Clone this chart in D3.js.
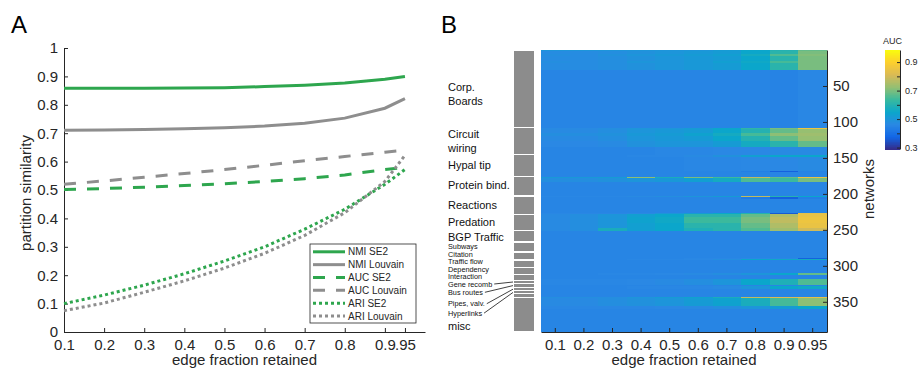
<!DOCTYPE html>
<html>
<head>
<meta charset="utf-8">
<script src="https://cdn.jsdelivr.net/npm/d3@7"></script>
<style>
  body { margin: 0; background: #fff; }
  svg { display: block; font-family: "Liberation Sans", Arial, Helvetica, sans-serif; }
</style>
</head>
<body>
<script>
// ---- data ----
const fractions = [0.1, 0.2, 0.3, 0.4, 0.5, 0.6, 0.7, 0.8, 0.9, 0.95];

const nmiSE2     = [0.858, 0.858, 0.858, 0.859, 0.860, 0.864, 0.869, 0.877, 0.890, 0.900];
const nmiLouvain = [0.710, 0.711, 0.713, 0.716, 0.719, 0.725, 0.735, 0.753, 0.788, 0.822];
const aucSE2     = [0.502, 0.505, 0.510, 0.516, 0.522, 0.530, 0.540, 0.553, 0.572, 0.580];
const aucLouvain = [0.520, 0.532, 0.545, 0.558, 0.572, 0.587, 0.603, 0.618, 0.633, 0.640];
const ariSE2     = [0.100, 0.130, 0.165, 0.205, 0.250, 0.300, 0.362, 0.432, 0.520, 0.572];
const ariLouvain = [0.075, 0.102, 0.140, 0.180, 0.225, 0.277, 0.340, 0.420, 0.530, 0.622];

const seriesNames = ["NMI SE2", "NMI Louvain", "AUC SE2", "AUC Louvain", "ARI SE2", "ARI Louvain"];

const yTicksA = [0, 0.1, 0.2, 0.3, 0.4, 0.5, 0.6, 0.7, 0.8, 0.9, 1];

// network categories: [name, first row, last row]
const categories = [
  ["Corp.|Boards", 0, 108],
  ["Circuit|wiring", 108, 145],
  ["Hypal tip", 145, 176],
  ["Protein bind.", 176, 203],
  ["Reactions", 203, 229],
  ["Predation", 229, 251],
  ["BGP Traffic", 251, 267],
  ["Subways", 267, 281],
  ["Citation", 281, 292],
  ["Traffic flow", 292, 302],
  ["Dependency", 302, 312],
  ["Interaction", 312, 320],
  ["Gene recomb", 320, 325],
  ["Bus routes", 325, 330],
  ["Pipes, valv.", 330, 335],
  ["Hyperlinks", 335, 339],
  ["", 339, 344],
  ["misc", 344, 392]
];
const nNetworks = 392;
const networkTicks = [50, 100, 150, 200, 250, 300, 350];

// AUC heat-map, blocks of rows: [from, to, AUC per edge fraction]
// later blocks are painted over earlier ones
const aucBlocks = [
  [0, 392,   [0.455, 0.455, 0.455, 0.455, 0.455, 0.455, 0.455, 0.455, 0.455, 0.455]],
  [0, 1,     [0.50, 0.50, 0.50, 0.50, 0.50, 0.50, 0.52, 0.55, 0.60, 0.68]],
  [1, 28,    [0.475, 0.475, 0.48, 0.49, 0.50, 0.51, 0.52, 0.55, 0.61, 0.70]],
  [5, 9,     [0.48, 0.475, 0.49, 0.50, 0.51, 0.52, 0.53, 0.57, 0.66, 0.71]],
  [15, 18,   [0.48, 0.475, 0.48, 0.50, 0.50, 0.51, 0.53, 0.56, 0.65, 0.70]],
  [28, 108,  [0.455, 0.455, 0.455, 0.455, 0.455, 0.455, 0.455, 0.455, 0.45, 0.46]],
  [108, 110, [0.47, 0.47, 0.48, 0.50, 0.50, 0.52, 0.55, 0.62, 0.70, 0.86]],
  [110, 126, [0.47, 0.47, 0.48, 0.50, 0.51, 0.52, 0.55, 0.60, 0.68, 0.73]],
  [115, 119, [0.48, 0.48, 0.49, 0.51, 0.52, 0.54, 0.57, 0.65, 0.72, 0.74]],
  [126, 135, [0.465, 0.465, 0.47, 0.49, 0.50, 0.50, 0.52, 0.57, 0.61, 0.68]],
  [135, 146, [0.455, 0.455, 0.455, 0.455, 0.46, 0.46, 0.465, 0.465, 0.47, 0.47]],
  [146, 149, [0.455, 0.455, 0.455, 0.46, 0.46, 0.47, 0.49, 0.53, 0.55, 0.55]],
  [149, 168, [0.455, 0.455, 0.455, 0.455, 0.455, 0.46, 0.46, 0.465, 0.465, 0.47]],
  [168, 170, [0.455, 0.455, 0.455, 0.455, 0.455, 0.455, 0.455, 0.44, 0.37, 0.45]],
  [176, 178, [0.51, 0.51, 0.52, 0.72, 0.58, 0.70, 0.64, 0.78, 0.68, 0.85]],
  [178, 183, [0.48, 0.48, 0.49, 0.50, 0.51, 0.53, 0.57, 0.66, 0.64, 0.70]],
  [203, 205, [0.46, 0.46, 0.46, 0.47, 0.48, 0.50, 0.52, 0.78, 0.60, 0.55]],
  [205, 207, [0.455, 0.455, 0.455, 0.455, 0.455, 0.455, 0.455, 0.43, 0.37, 0.44]],
  [226, 228, [0.46, 0.46, 0.46, 0.47, 0.50, 0.52, 0.55, 0.60, 0.36, 0.84]],
  [228, 252, [0.47, 0.48, 0.50, 0.53, 0.55, 0.61, 0.61, 0.68, 0.76, 0.85]],
  [232, 240, [0.47, 0.48, 0.50, 0.54, 0.56, 0.64, 0.64, 0.70, 0.78, 0.86]],
  [248, 252, [0.47, 0.48, 0.58, 0.53, 0.55, 0.59, 0.61, 0.66, 0.74, 0.80]],
  [289, 290, [0.455, 0.455, 0.455, 0.455, 0.455, 0.46, 0.46, 0.465, 0.46, 0.37]],
  [290, 292, [0.455, 0.455, 0.455, 0.46, 0.46, 0.465, 0.48, 0.55, 0.56, 0.57]],
  [310, 313, [0.455, 0.455, 0.46, 0.46, 0.465, 0.47, 0.48, 0.50, 0.55, 0.68]],
  [318, 326, [0.46, 0.46, 0.46, 0.465, 0.47, 0.48, 0.50, 0.55, 0.59, 0.66]],
  [328, 332, [0.455, 0.455, 0.455, 0.46, 0.46, 0.46, 0.47, 0.50, 0.55, 0.56]],
  [343, 345, [0.48, 0.48, 0.48, 0.50, 0.52, 0.54, 0.58, 0.78, 0.82, 0.84]],
  [345, 356, [0.47, 0.47, 0.48, 0.49, 0.50, 0.52, 0.54, 0.58, 0.65, 0.72]],
  [356, 360, [0.46, 0.46, 0.46, 0.46, 0.465, 0.47, 0.48, 0.50, 0.52, 0.55]]
];

const colorTicks = [0.3, 0.4, 0.5, 0.6, 0.7, 0.8, 0.9];

// ---- styling ----
const AXIS = "#262626";
const GREEN = "#2ea64e";
const GRAY = "#8e8e8e";
const seriesColors = [GREEN, GRAY, GREEN, GRAY, GREEN, GRAY];
const seriesDash = [null, null, "12,11", "12,11", "3,3", "3,3"];
const PARULA = ["#352a87", "#1166e6", "#2a88e4", "#0ba6cb", "#38b99e",
                "#92bf73", "#d9ba56", "#fcce2e", "#f9fb0e"];
const AUC_MIN = 0.29, AUC_MAX = 0.985;

const svg = d3.select("body")
  .append("svg")
  .attr("width", 921)
  .attr("height", 369);

function styleAxis(g, size) {
  g.attr("font-family", null).attr("font-size", size);
  g.select(".domain").attr("stroke", AXIS);
  g.selectAll(".tick line").attr("stroke", AXIS);
  g.selectAll(".tick text").attr("fill", AXIS);
}

// ================= panel A =================
const A = { left: 64, right: 425, top: 48, bottom: 332 };
const x = d3.scaleLinear().domain([0.1, 1]).range([A.left, A.right]);
const y = d3.scaleLinear().domain([0, 1]).range([A.bottom, A.top]);

svg.append("text").attr("x", 11).attr("y", 33)
  .attr("font-size", 24).text("A");

svg.append("g")
  .attr("transform", `translate(0,${A.bottom})`)
  .call(d3.axisBottom(x)
    .tickValues(fractions)
    .tickFormat(d => d === 0.95 ? ".95" : d3.format("~g")(d))
    .tickSizeInner(-4).tickSizeOuter(0).tickPadding(7))
  .call(styleAxis, 15);

svg.append("g")
  .attr("transform", `translate(${A.left},0)`)
  .call(d3.axisLeft(y)
    .tickValues(yTicksA)
    .tickFormat(d3.format("~g"))
    .tickSizeInner(-4).tickSizeOuter(0).tickPadding(6))
  .call(styleAxis, 15);

svg.append("text")
  .attr("transform", `translate(${(A.left + A.right) / 2},365)`)
  .attr("text-anchor", "middle").attr("font-size", 15).attr("fill", AXIS)
  .text("edge fraction retained");

svg.append("text")
  .attr("transform", `translate(31,${(A.top + A.bottom) / 2 + 3}) rotate(-90)`)
  .attr("text-anchor", "middle").attr("font-size", 15).attr("fill", AXIS)
  .text("partition similarity");

const seriesValues = [nmiSE2, nmiLouvain, aucSE2, aucLouvain, ariSE2, ariLouvain];
const line = d3.line()
  .x((d, i) => x(fractions[i]))
  .y(d => y(d));

seriesValues.forEach((vals, i) => {
  svg.append("path")
    .attr("d", line(vals))
    .attr("fill", "none")
    .attr("stroke", seriesColors[i])
    .attr("stroke-width", 3)
    .attr("stroke-dasharray", seriesDash[i]);
});

// legend
const lg = svg.append("g").attr("transform", "translate(310,244)");
lg.append("rect")
  .attr("width", 106).attr("height", 79)
  .attr("fill", "#fff").attr("stroke", AXIS).attr("stroke-width", 0.8);
seriesNames.forEach((name, i) => {
  const ry = 7.8 + i * 12.85;
  lg.append("line")
    .attr("x1", 3).attr("x2", 35).attr("y1", ry).attr("y2", ry)
    .attr("stroke", seriesColors[i]).attr("stroke-width", 3)
    .attr("stroke-dasharray", seriesDash[i]);
  lg.append("text")
    .attr("x", 38).attr("y", ry).attr("dy", "0.35em")
    .attr("font-size", 10).attr("fill", AXIS)
    .text(name);
});

// ================= panel B =================
const B = { left: 541, right: 827, top: 50, bottom: 332 };
const xb = d3.scaleBand().domain(fractions).range([B.left, B.right]);
const yb = d3.scaleLinear().domain([0, nNetworks]).range([B.top, B.bottom]);
const color = d3.scaleLinear()
  .domain(PARULA.map((c, i) => AUC_MIN + (AUC_MAX - AUC_MIN) * i / (PARULA.length - 1)))
  .range(PARULA)
  .clamp(true);

svg.append("text").attr("x", 441).attr("y", 33)
  .attr("font-size", 24).text("B");

const heat = svg.append("g").attr("shape-rendering", "crispEdges");
aucBlocks.forEach(([from, to, vals]) => {
  heat.selectAll(null)
    .data(vals)
    .join("rect")
    .attr("x", (v, i) => xb(fractions[i]))
    .attr("width", xb.bandwidth())
    .attr("y", yb(from))
    .attr("height", yb(to) - yb(from))
    .attr("fill", v => color(v));
});

svg.append("g")
  .attr("transform", `translate(0,${B.bottom})`)
  .call(d3.axisBottom(xb)
    .tickFormat(d3.format("~g"))
    .tickSizeInner(-4).tickSizeOuter(0).tickPadding(7))
  .call(styleAxis, 15);

svg.append("g")
  .attr("transform", `translate(${B.right},0)`)
  .call(d3.axisRight(yb)
    .tickValues(networkTicks)
    .tickSizeInner(-4).tickSizeOuter(0).tickPadding(6))
  .call(styleAxis, 15);

svg.append("text")
  .attr("transform", `translate(${(B.left + B.right) / 2},365)`)
  .attr("text-anchor", "middle").attr("font-size", 15).attr("fill", AXIS)
  .text("edge fraction retained");

svg.append("text")
  .attr("transform", `translate(874,${(B.top + B.bottom) / 2 - 2}) rotate(-90)`)
  .attr("text-anchor", "middle").attr("font-size", 15).attr("fill", AXIS)
  .text("networks");

// category bar + labels
const BAR_X = 514, BAR_W = 20, LABEL_X = 448;
const smallNames = ["Subways", "Citation", "Traffic flow", "Dependency", "Interaction",
                    "Gene recomb", "Bus routes", "Pipes, valv.", "Hyperlinks"];
// pixel nudges so the crowded labels stay readable (layout only)
const labelNudge = {
  "Corp.|Boards": 5.5, "Subways": -0.8, "Citation": -2.1, "Traffic flow": -2.2,
  "Dependency": -1.9, "Interaction": -0.8, "Gene recomb": 2.0, "Bus routes": 6.7,
  "Pipes, valv.": 14.5, "Hyperlinks": 20.7, "misc": 11.6, "BGP Traffic": 1.2,
  "Predation": -1, "Protein bind.": -1.3
};
const leaderNames = ["Gene recomb", "Bus routes", "Pipes, valv.", "Hyperlinks"];

svg.append("g").attr("shape-rendering", "crispEdges")
  .selectAll("rect")
  .data(categories)
  .join("rect")
  .attr("x", BAR_X).attr("width", BAR_W)
  .attr("y", d => yb(d[1]) + 0.5)
  .attr("height", d => Math.max(1, yb(d[2]) - yb(d[1]) - 1.2))
  .attr("fill", "#8c8c8c");

categories.forEach(([name, from, to]) => {
  if (!name) return;
  const mid = yb((from + to) / 2);
  const ly = mid + (labelNudge[name] || 0);
  const size = smallNames.includes(name) ? 7.3 : 11;
  const t = svg.append("text")
    .attr("x", LABEL_X).attr("font-size", size).attr("fill", "#111");
  const lines = name.split("|");
  lines.forEach((s, k) => {
    t.append("tspan")
      .attr("x", LABEL_X)
      .attr("y", ly + (k - (lines.length - 1) / 2) * 13.5)
      .attr("dy", "0.35em")
      .text(s);
  });
  if (leaderNames.includes(name)) {
    const end = LABEL_X + t.node().getComputedTextLength() + 2;
    svg.append("line")
      .attr("x1", end).attr("y1", ly)
      .attr("x2", BAR_X - 1).attr("y2", mid)
      .attr("stroke", "#111").attr("stroke-width", 0.8);
  }
});

// colour bar
const CB = { left: 885, right: 900, top: 50, bottom: 149 };
const cb = d3.scaleLinear().domain([AUC_MIN, AUC_MAX]).range([CB.bottom, CB.top]);
const step = 0.005;
svg.append("g").attr("shape-rendering", "crispEdges")
  .selectAll("rect")
  .data(d3.range(AUC_MIN, AUC_MAX, step))
  .join("rect")
  .attr("x", CB.left).attr("width", CB.right - CB.left)
  .attr("y", v => cb(Math.min(v + step, AUC_MAX)))
  .attr("height", v => cb(v) - cb(Math.min(v + step, AUC_MAX)) + 0.5)
  .attr("fill", v => color(v + step / 2));

svg.append("g")
  .attr("transform", `translate(${CB.right},0)`)
  .call(d3.axisRight(cb)
    .tickValues(colorTicks)
    .tickFormat(d => [0.3, 0.5, 0.7, 0.9].includes(d) ? d3.format(".1f")(d) : "")
    .tickSizeInner(-3).tickSizeOuter(0).tickPadding(5))
  .call(styleAxis, 9);

svg.append("text")
  .attr("x", (CB.left + CB.right) / 2).attr("y", 44)
  .attr("text-anchor", "middle").attr("font-size", 9).attr("fill", AXIS)
  .text("AUC");
</script>
</body>
</html>
